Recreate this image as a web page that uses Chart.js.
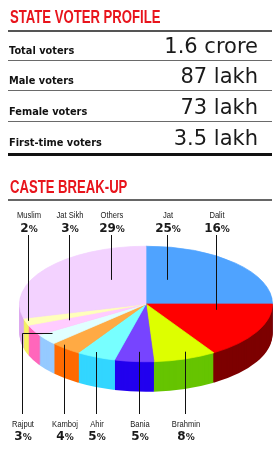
<!DOCTYPE html>
<html>
<head>
<meta charset="utf-8">
<script src="https://cdn.jsdelivr.net/npm/chart.js@4.4.1/dist/chart.umd.min.js"></script>
<style>
  html, body { margin: 0; padding: 0; background: #fff; }
  #page { position: relative; width: 280px; height: 455px; overflow: hidden; font-family: 'DejaVu Sans', sans-serif; color: #111; }
  #pie { position: absolute; left: 0; top: 0; }
  .head { position: absolute; left: 10px; color: #e8141c; font-family: 'Liberation Sans', sans-serif; font-weight: bold;
          font-size: 16px; line-height: 16px; white-space: nowrap; transform-origin: left top; transform: scale(0.82, 1.12); }
  .rule { position: absolute; left: 8px; width: 264px; height: 1px; background: #6a6a6a; }
  .rule.thick { height: 3px; background: #111; }
  .row-label { position: absolute; left: 9px; font-weight: bold; font-size: 9.8px; line-height: 9.8px; white-space: nowrap; }
  .row-value { position: absolute; right: 22px; font-size: 21px; line-height: 21px; white-space: nowrap; color: #1a1a1a; }
  .lbl { position: absolute; white-space: nowrap; text-align: center; color: #1a1a1a; transform-origin: center top; }
  .lbl.name { font-family: 'Liberation Sans', sans-serif; font-size: 9.5px; line-height: 9.5px; transform: translateX(-50%) scaleX(0.8); }
  .lbl.pct { font-weight: bold; font-size: 12px; line-height: 12px; transform: translateX(-50%); }
  .lbl.pct span { font-size: 9px; }
</style>
</head>
<body>
<div id="page">
  <canvas id="pie" width="280" height="455"></canvas>

  <div class="head" style="top:8px">STATE VOTER PROFILE</div>
  <div class="rule" style="top:30px; height:2px; background:#555"></div>
  <div id="profile"></div>
  <div class="rule thick" style="top:153px"></div>

  <div class="head" style="top:178px">CASTE BREAK-UP</div>
  <div class="rule" style="top:199px; height:2px; background:#666"></div>
  <div id="labels"></div>
</div>

<script>
// voter profile
const profileLabels = ['Total voters', 'Male voters', 'Female voters', 'First-time voters'];
const profileValues = ['1.6 crore', '87 lakh', '73 lakh', '3.5 lakh'];

// caste break-up, clockwise from 12 o'clock
const castes = ['Jat', 'Dalit', 'Brahmin', 'Bania', 'Ahir', 'Kamboj', 'Rajput', 'Jat Sikh', 'Muslim', 'Others'];
const shares = [25, 16, 8, 5, 5, 4, 3, 3, 2, 29];

const topColors  = ['#4fa3ff', '#ff0000', '#ddff00', '#7744ff', '#77ffff', '#ffaa44', '#e0ffff', '#ffccff', '#ffffbb', '#f3d2ff'];
const sideColors = ['#2f73c8', '#7d0000', '#66c400', '#2200ee', '#33d6ff', '#ff6a00', '#96caff', '#ff66bb', '#f4f060', '#dca8ee'];

// where each leader line touches its slice: t = fraction along the slice, f = fraction of radius
const labelSpots = [
  { side: 'top', t: 0.24, f: 0.45 },
  { side: 'top', t: 0.18, f: 0.56 },
  { side: 'bottom', t: 0.42, f: 0.88 },
  { side: 'bottom', t: 0.41, f: 0.83 },
  { side: 'bottom', t: 0.61, f: 0.92 },
  { side: 'bottom', t: 0.72, f: 0.96 },
  { side: 'bottom', t: 0.8, f: 0.9, elbowX: 22 },
  { side: 'top', t: 0.7, f: 0.67 },
  { side: 'top', t: 0.6, f: 0.98 },
  { side: 'top', t: 0.68, f: 0.5 }
];

// profile rows (baselines at 54, 84, 115, 146)
const rowBase = [54, 84, 115, 146];
const profile = document.getElementById('profile');
profileLabels.forEach((name, i) => {
  const l = document.createElement('div');
  l.className = 'row-label';
  l.style.top = (rowBase[i] - 8.3) + 'px';
  l.textContent = name;
  profile.appendChild(l);
  const v = document.createElement('div');
  v.className = 'row-value';
  v.style.top = (rowBase[i] - 17.8) + 'px';
  v.textContent = profileValues[i];
  profile.appendChild(v);
  if (i < 3) {
    const r = document.createElement('div');
    r.className = 'rule';
    r.style.top = (rowBase[i] + 6) + 'px';
    profile.appendChild(r);
  }
});

const TILT = 58 / 127;   // vertical squash of the pie
const PIE_Y = 304;       // screen y of pie centre
const DEPTH = 30;        // rim thickness

function squash(ctx, arc, dy) {
  ctx.translate(arc.x, PIE_Y + dy);
  ctx.scale(1, TILT);
  ctx.translate(-arc.x, -arc.y);
}

const pie3d = {
  id: 'pie3d',
  beforeDatasetsDraw(chart) {
    const ctx = chart.ctx;
    const arcs = chart.getDatasetMeta(0).data;
    for (let d = DEPTH; d > 0; d--) {
      ctx.save();
      squash(ctx, arcs[0], d);
      arcs.forEach((a, i) => {
        ctx.beginPath();
        ctx.moveTo(a.x, a.y);
        ctx.arc(a.x, a.y, a.outerRadius, a.startAngle, a.endAngle);
        ctx.closePath();
        ctx.fillStyle = sideColors[i];
        ctx.fill();
      });
      ctx.restore();
    }
    ctx.save();
    squash(ctx, arcs[0], 0);
  },
  afterDatasetsDraw(chart) {
    chart.ctx.restore();
  },
  afterDraw(chart) {
    const ctx = chart.ctx;
    const arcs = chart.getDatasetMeta(0).data;
    const box = document.getElementById('labels');
    box.innerHTML = '';
    ctx.save();
    ctx.strokeStyle = '#111';
    ctx.lineWidth = 1;
    arcs.forEach((a, i) => {
      const s = labelSpots[i];
      const ang = a.startAngle + s.t * (a.endAngle - a.startAngle);
      const ax = Math.round(a.x + Math.cos(ang) * a.outerRadius * s.f) + 0.5;
      const ay = PIE_Y + Math.sin(ang) * a.outerRadius * s.f * TILT;
      const lx = s.elbowX !== undefined ? s.elbowX + 0.5 : ax;
      ctx.beginPath();
      if (s.side === 'top') {
        ctx.moveTo(lx, 235);
        ctx.lineTo(lx, ay);
      } else {
        ctx.moveTo(ax, ay);
        if (s.elbowX !== undefined) ctx.lineTo(lx, ay);
        ctx.lineTo(lx, 414);
      }
      ctx.stroke();

      const nameTop = s.side === 'top' ? 210 : 418.5;
      const pctTop = s.side === 'top' ? 222 : 430;
      const n = document.createElement('div');
      n.className = 'lbl name';
      n.style.left = (lx + 0.5) + 'px';
      n.style.top = nameTop + 'px';
      n.textContent = castes[i];
      box.appendChild(n);
      const p = document.createElement('div');
      p.className = 'lbl pct';
      p.style.left = (lx + 0.5) + 'px';
      p.style.top = pctTop + 'px';
      p.innerHTML = shares[i] + '<span>%</span>';
      box.appendChild(p);
    });
    ctx.restore();
  }
};

new Chart(document.getElementById('pie'), {
  type: 'pie',
  data: {
    labels: castes,
    datasets: [{
      data: shares,
      backgroundColor: topColors,
      borderColor: topColors,
      borderWidth: 1,
      clip: false
    }]
  },
  options: {
    responsive: false,
    animation: false,
    events: [],
    layout: { padding: { left: 19, right: 7, top: 100, bottom: 101 } },
    plugins: { legend: { display: false }, tooltip: { enabled: false } }
  },
  plugins: [pie3d]
});
</script>
</body>
</html>
